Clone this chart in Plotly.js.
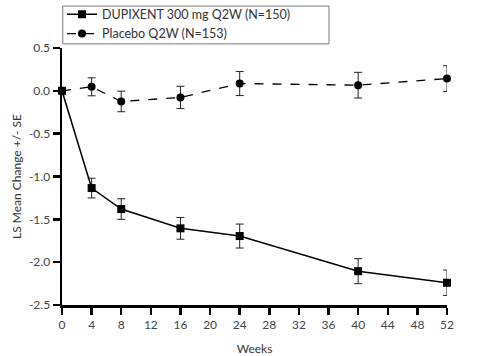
<!DOCTYPE html>
<html><head><meta charset="utf-8">
<script src="https://cdn.plot.ly/plotly-3.0.1.min.js"></script>
<style>body{margin:0;background:#fff}#chart{width:489px;height:356px}</style>
</head><body><div id="chart"></div>
<script>
var weeks = [0, 4, 8, 16, 24, 40, 52];
var dupixentMean = [0, -1.135, -1.38, -1.605, -1.695, -2.105, -2.24];
var dupixentSE = [0, 0.115, 0.12, 0.127, 0.14, 0.146, 0.148];
var placeboMean = [0, 0.047, -0.124, -0.077, 0.085, 0.066, 0.143];
var placeboSE = [0, 0.105, 0.12, 0.13, 0.14, 0.15, 0.15];
var xTicks = [0,4,8,12,16,20,24,28,32,36,40,44,48,52];
var yTicks = [0.5, 0, -0.5, -1, -1.5, -2, -2.5];
var yTickText = ['0.5','0.0','-0.5','-1.0','-1.5','-2.0','-2.5'];
var seriesNames = ['DUPIXENT 300 mg Q2W (N=150)', 'Placebo Q2W (N=153)'];

var font = 'Lato, "Open Sans", sans-serif';
var traces = [
  {x: weeks, y: dupixentMean, name: seriesNames[0], mode: 'lines+markers',
   line: {color: '#000', width: 1.5}, marker: {symbol: 'square', size: 8, color: '#000'},
   error_y: {type: 'data', array: dupixentSE, visible: true, color: '#222', thickness: 1, width: 4},
   cliponaxis: false},
  {x: weeks, y: placeboMean, name: seriesNames[1], mode: 'lines+markers',
   line: {color: '#000', width: 1.3, dash: 'dash'}, marker: {symbol: 'circle', size: 8, color: '#000'},
   error_y: {type: 'data', array: placeboSE, visible: true, color: '#222', thickness: 1, width: 4},
   cliponaxis: false}
];
var layout = {
  width: 489, height: 356,
  margin: {l: 62, r: 42, t: 48, b: 51, autoexpand: false},
  paper_bgcolor: '#fff', plot_bgcolor: '#fff',
  font: {family: font, size: 12, color: '#444'},
  showlegend: true,
  legend: {x: 0, y: 1.188, xanchor: 'left', yanchor: 'top', borderwidth: 0, bgcolor: 'rgba(0,0,0,0)',
           font: {family: font, size: 12.5, color: '#333'}, tracegroupgap: 0, itemwidth: 30},
  shapes: [{type: 'rect', xref: 'paper', yref: 'paper', x0: 0.002, x1: 0.6935, y0: 1.016, y1: 1.163,
            line: {color: '#777', width: 1}, fillcolor: 'rgba(0,0,0,0)', layer: 'below'}],
  xaxis: {range: [0, 52], tickvals: xTicks, ticktext: xTicks.map(String), showgrid: false, zeroline: false,
          showline: true, linecolor: '#000', linewidth: 2.5, ticks: 'outside', ticklen: 7, tickwidth: 2.5,
          tickcolor: '#000', tickfont: {size: 12, color: '#444'},
          title: {text: 'Weeks', font: {size: 12, color: '#333'}, standoff: 14}},
  yaxis: {range: [-2.5, 0.5], tickvals: yTicks, ticktext: yTickText, showgrid: false, zeroline: false,
          showline: true, linecolor: '#000', linewidth: 2.5, ticks: 'outside', ticklen: 7, tickwidth: 2.5,
          tickcolor: '#000', tickfont: {size: 12, color: '#444'},
          title: {text: 'LS Mean Change +/- SE', font: {size: 12, color: '#333'}, standoff: 5}}
};
Plotly.newPlot('chart', traces, layout, {displayModeBar: false, staticPlot: true});
</script></body></html>
